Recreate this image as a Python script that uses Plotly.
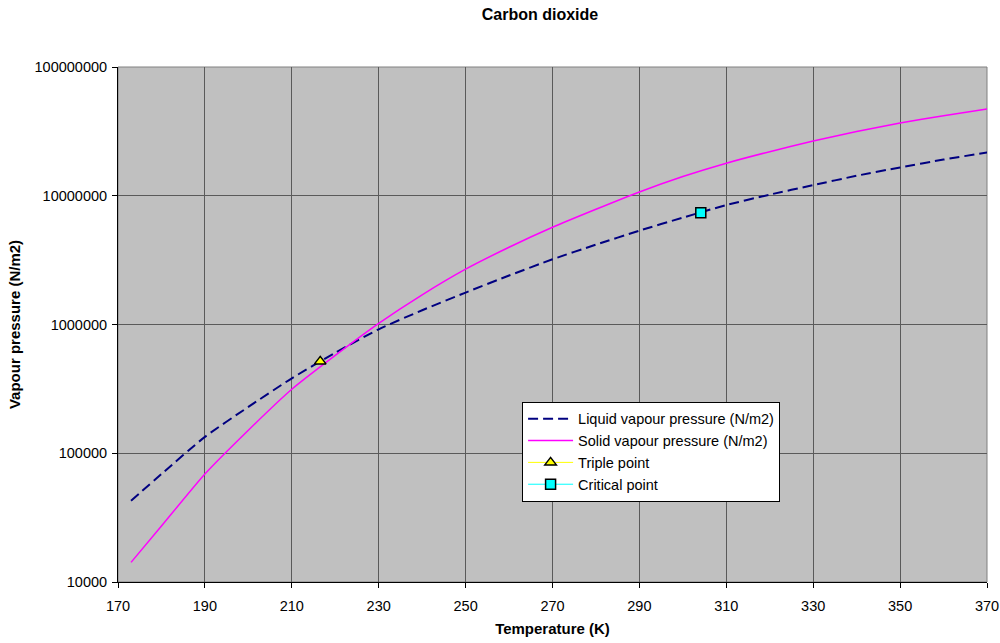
import plotly.graph_objects as go

# Data
temp_liquid = [173, 180, 190, 200, 210, 220, 230, 240, 250, 260, 270, 280, 290, 300, 310, 320, 330, 340, 350, 360, 370, 371.5]
p_liquid = [42700, 69000, 134000, 229000, 382000, 603000, 918000, 1290000, 1770000, 2400000, 3210000, 4170000,
            5360000, 6760000, 8470000, 10200000, 12100000, 14300000, 16600000, 19100000, 21700000, 22200000]

temp_solid = [173, 180, 190, 200, 210, 220, 230, 240, 250, 260, 270, 280, 290, 300, 310, 320, 330, 340, 350, 360, 370, 371.5]
p_solid = [14200, 27200, 69000, 151000, 314000, 575000, 1020000, 1700000, 2690000, 3980000, 5690000, 7850000,
           10700000, 14100000, 17900000, 22000000, 26600000, 31500000, 36700000, 41900000, 47200000, 47900000]

triple_t = [216.55]
triple_p = [517000]
critical_t = [304.13]
critical_p = [7377000]

x_ticks = [170, 190, 210, 230, 250, 270, 290, 310, 330, 350, 370]
y_ticks = [10000, 100000, 1000000, 10000000, 100000000]
y_tick_labels = ["10000", "100000", "1000000", "10000000", "100000000"]

FONT = "Liberation Sans, Arial, sans-serif"

fig = go.Figure()
fig.add_trace(go.Scatter(x=temp_liquid, y=p_liquid, mode="lines", name="Liquid vapour pressure (N/m2)",
                         line=dict(color="#000080", width=2, dash="10px,5px", shape="spline", smoothing=0.6),
                         cliponaxis=False))
fig.add_trace(go.Scatter(x=temp_solid, y=p_solid, mode="lines", name="Solid vapour pressure (N/m2)",
                         line=dict(color="#FF00FF", width=1.5, shape="spline", smoothing=0.6),
                         cliponaxis=False))
fig.add_trace(go.Scatter(x=triple_t, y=triple_p, mode="lines+markers", name="Triple point",
                         line=dict(color="#FFFF00", width=1),
                         marker=dict(symbol="triangle-up", size=10, color="#FFFF00",
                                     line=dict(color="#000000", width=1.5))))
fig.add_trace(go.Scatter(x=critical_t, y=critical_p, mode="lines+markers", name="Critical point",
                         line=dict(color="#00FFFF", width=1),
                         marker=dict(symbol="square", size=10, color="#00FFFF",
                                     line=dict(color="#000000", width=1.5))))

fig.update_layout(
    width=1000, height=643,
    paper_bgcolor="#FFFFFF", plot_bgcolor="#C0C0C0",
    margin=dict(l=118, r=13, t=67, b=61, autoexpand=False),
    font=dict(family=FONT, size=15, color="#000000"),
    title=dict(text="<b>Carbon dioxide</b>", x=0.54, xanchor="center", xref="container",
               y=1 - 14 / 643, yanchor="middle", yref="container",
               font=dict(family=FONT, size=16, color="#000000")),
    showlegend=True,
    legend=dict(x=0.465, y=0.35, xanchor="left", yanchor="top",
                bgcolor="#FFFFFF", bordercolor="#000000", borderwidth=1,
                font=dict(family=FONT, size=14.5, color="#000000"),
                tracegroupgap=0, itemwidth=45),
)

fig.update_xaxes(
    range=[170, 370], tickvals=x_ticks, ticktext=[str(v) for v in x_ticks],
    showgrid=True, gridcolor="#5A5A5A", gridwidth=1,
    showline=True, linecolor="#000000", linewidth=1,
    ticks="outside", ticklen=5, tickcolor="#000000",
    mirror=False, zeroline=False, automargin=False,
    ticklabelstandoff=6,
    title=dict(text="<b>Temperature (K)</b>", font=dict(family=FONT, size=15), standoff=10),
    tickfont=dict(family=FONT, size=14.5),
)
fig.update_yaxes(
    type="log", range=[4, 8], tickvals=y_ticks, ticktext=y_tick_labels,
    showgrid=True, gridcolor="#5A5A5A", gridwidth=1,
    showline=True, linecolor="#000000", linewidth=1,
    ticks="outside", ticklen=5, tickcolor="#000000",
    zeroline=False, automargin=False,
    ticklabelstandoff=2,
    title=dict(text="<b>Vapour pressure (N/m2)</b>", font=dict(family=FONT, size=15), standoff=10),
    tickfont=dict(family=FONT, size=14.5),
)

# gray plot-area border on top/right
fig.add_shape(type="rect", xref="paper", yref="paper", x0=0, y0=0, x1=1, y1=1,
              line=dict(color="#808080", width=1), layer="below")

fig.write_html("out.html", config={"displayModeBar": False},
               post_script="document.body.style.margin='0px';")
